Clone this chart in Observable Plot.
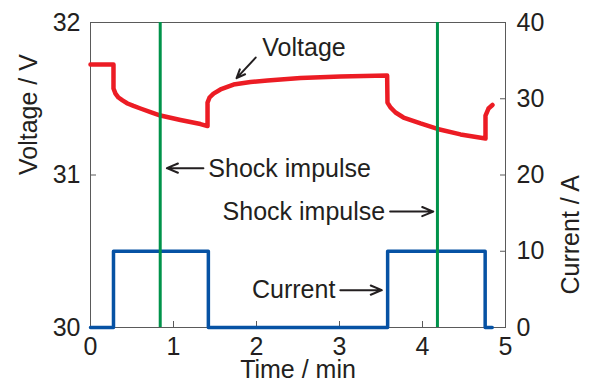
<!DOCTYPE html>
<html>
<head>
<meta charset="utf-8">
<script src="https://cdn.jsdelivr.net/npm/d3@7"></script>
<script src="https://cdn.jsdelivr.net/npm/@observablehq/plot@0.6"></script>
<style>
  html, body { margin: 0; padding: 0; background: white; }
</style>
</head>
<body>
<div id="chart"></div>
<script>
// Voltage trace (time in min, voltage in V)
const voltageTime = [0, 0.277, 0.277, 0.301, 0.337, 0.386, 0.446, 0.518, 0.602, 0.723, 0.843, 1.084, 1.325, 1.41,
  1.41, 1.434, 1.482, 1.566, 1.723, 1.928, 2.133, 2.53, 3.012, 3.574,
  3.578, 3.614, 3.675, 3.771, 3.976, 4.181, 4.458, 4.759,
  4.759, 4.795, 4.843];
const voltageValue = [31.725, 31.725, 31.567, 31.534, 31.508, 31.489, 31.469, 31.453, 31.436, 31.413, 31.390, 31.361, 31.334, 31.321,
  31.475, 31.508, 31.534, 31.561, 31.593, 31.610, 31.620, 31.636, 31.646, 31.652,
  31.475, 31.443, 31.410, 31.377, 31.338, 31.302, 31.266, 31.239,
  31.390, 31.436, 31.459];

// Current trace (time in min, current in A), step-after
const currentTime = [0, 0.277, 1.42, 3.58, 4.755, 4.84];
const currentValue = [0, 10, 0, 10, 0, 0];

// Shock impulse times (min)
const shockTimes = [0.84, 4.18];

// Axis ticks
const xTicks = [0, 1, 2, 3, 4, 5];
const voltageTicks = [30, 31, 32];
const currentTicks = [0, 10, 20, 30, 40];

// Mapping of current axis (0..40 A) onto voltage axis (30..32 V)
const vMin = 30, vMax = 32, iMin = 0, iMax = 40;
const currentToV = (i) => vMin + (i - iMin) * (vMax - vMin) / (iMax - iMin);
const vToCurrent = (v) => iMin + (v - vMin) * (iMax - iMin) / (vMax - vMin);

const voltageData = voltageTime.map((t, k) => ({t, v: voltageValue[k]}));
const currentData = currentTime.map((t, k) => ({t, i: currentValue[k]}));

const RED = "#ec1c24", BLUE = "#0652a4", GREEN = "#00934a", INK = "#231f20", FRAME = "#5a5a5a";

const chart = Plot.plot({
  width: 590,
  height: 383,
  marginLeft: 90,
  marginRight: 85,
  marginTop: 22,
  marginBottom: 56,
  x: {domain: [0, 5]},
  y: {domain: [vMin, vMax]},
  style: {fontFamily: "'Liberation Sans', Arial, sans-serif", fontSize: "25px", color: INK, background: "white", overflow: "visible"},
  marks: [
    Plot.frame({stroke: FRAME, strokeWidth: 1}),
    Plot.axisX({ticks: xTicks, tickFormat: (d) => String(d), tickSize: -6, tickPadding: 16, stroke: FRAME, label: null, fontSize: 25}),
    Plot.axisY({anchor: "left", ticks: voltageTicks, tickFormat: (d) => String(d), tickSize: -6, tickPadding: 16, stroke: FRAME, label: null, fontSize: 25}),
    Plot.axisY({anchor: "right", ticks: currentTicks.map(currentToV), tickFormat: (v) => String(Math.round(vToCurrent(v))), tickSize: -6, tickPadding: 17, stroke: FRAME, label: null, fontSize: 25}),
    Plot.line(currentData, {x: "t", y: (d) => currentToV(d.i), curve: "step-after", stroke: BLUE, strokeWidth: 3.5}),
    Plot.line(voltageData, {x: "t", y: "v", stroke: RED, strokeWidth: 4.5, strokeLinejoin: "round"}),
    Plot.ruleX(shockTimes, {stroke: GREEN, strokeWidth: 3}),
    // Axis titles
    Plot.text(["Voltage / V"], {frameAnchor: "left", dx: -62, rotate: -90, fontSize: 25, fill: INK}),
    Plot.text(["Current / A"], {frameAnchor: "right", dx: 65, rotate: -90, fontSize: 25, fill: INK}),
    Plot.text(["Time / min"], {frameAnchor: "bottom", dy: 50, fontSize: 25, fill: INK}),
    // Annotations
    Plot.text(["Voltage"], {x: 2.07, y: 31.83, textAnchor: "start", fontSize: 25, fill: INK}),
    Plot.arrow([0], {x1: 1.99, y1: 31.77, x2: 1.76, y2: 31.635, stroke: INK, strokeWidth: 2, headLength: 9, headAngle: 45}),
    Plot.text(["Shock impulse"], {x: 1.42, y: 31.04, textAnchor: "start", fontSize: 25, fill: INK}),
    Plot.arrow([0], {x1: 1.36, y1: 31.045, x2: 0.92, y2: 31.045, stroke: INK, strokeWidth: 2, headLength: 9, headAngle: 45}),
    Plot.text(["Shock impulse"], {x: 3.55, y: 30.755, textAnchor: "end", fontSize: 25, fill: INK}),
    Plot.arrow([0], {x1: 3.61, y1: 30.76, x2: 4.13, y2: 30.76, stroke: INK, strokeWidth: 2, headLength: 9, headAngle: 45}),
    Plot.text(["Current"], {x: 2.95, y: 30.245, textAnchor: "end", fontSize: 25, fill: INK}),
    Plot.arrow([0], {x1: 3.01, y1: 30.245, x2: 3.51, y2: 30.245, stroke: INK, strokeWidth: 2, headLength: 9, headAngle: 45})
  ]
});
document.getElementById("chart").appendChild(chart);
</script>
</body>
</html>
